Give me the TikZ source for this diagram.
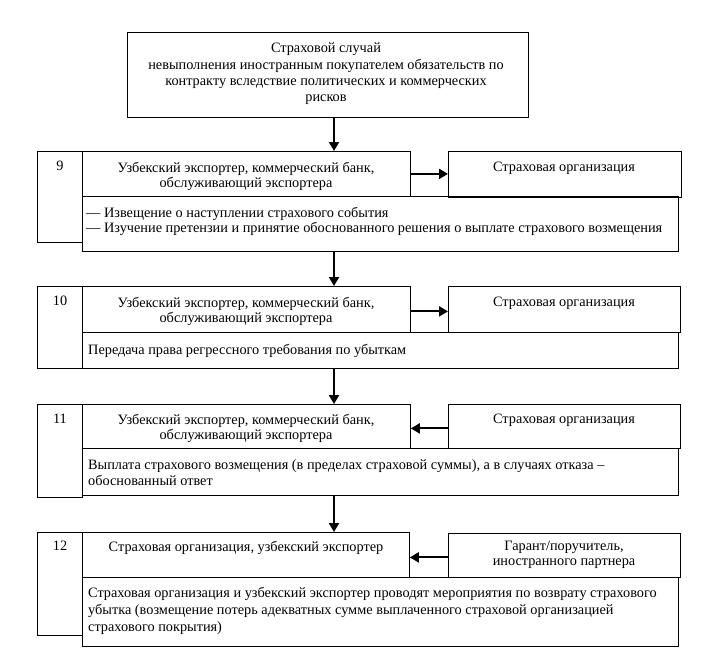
\documentclass[tikz,border=0pt]{standalone}
\usepackage{fontspec}
\setmainfont{Liberation Serif}
\usetikzlibrary{arrows.meta,positioning}

\begin{document}
\begin{tikzpicture}[
x=1pt,y=-1pt,
box/.style={draw,line width=0.8pt,anchor=north west,inner sep=0pt},
txt/.style={font=\fontsize{14.3}{15}\selectfont,align=center,anchor=north,inner sep=0pt},
ltxt/.style={font=\fontsize{14.3}{16}\selectfont,align=left,anchor=north west,inner sep=0pt},
flow/.style={-{Triangle[length=9pt,width=10pt]},line width=2pt}
]
\useasboundingbox (0,0) rectangle (726,661);
\coordinate (axis) at (334,0);
% top box
\node[box,minimum width=401,minimum height=85] (top) at (127,32) {};
\node[txt,font=\fontsize{14.3}{16.3}\selectfont] (topt) at (326,43) {Страховой случай\\ невыполнения иностранным покупателем обязательств по\\ контракту вследствие политических и коммерческих\\ рисков};
% step 9
\node[box,minimum width=45,minimum height=91] (num9) at (37,151) {};
\node[box,minimum width=328,minimum height=45] (head9) at (82,151) {};
\node[box,minimum width=233,minimum height=46] (side9) at (448,151) {};
\node[box,minimum width=596,minimum height=55] (body9) at (82,196) {};
\node[txt] (n9t) at (60,161) {9};
\node[txt] (h9t) at (246,162) {Узбекский экспортер, коммерческий банк,\\ обслуживающий экспортера};
\node[txt] (s9t) at (564,162) {Страховая организация};
\node[ltxt,font=\fontsize{14.3}{15}\selectfont] (b9t) at (86,207) {— Извещение о наступлении страхового события\\ — Изучение претензии и принятие обоснованного решения о выплате страхового возмещения};
% step 10
\node[box,minimum width=45,minimum height=82] (num10) at (37,286) {};
\node[box,minimum width=328,minimum height=46] (head10) at (82,286) {};
\node[box,minimum width=232,minimum height=46] (side10) at (448,286) {};
\node[box,minimum width=596,minimum height=36] (body10) at (82,332) {};
\node[txt] (n10t) at (60,296) {10};
\node[txt] (h10t) at (246,297) {Узбекский экспортер, коммерческий банк,\\ обслуживающий экспортера};
\node[txt] (s10t) at (564,297) {Страховая организация};
\node[ltxt] (b10t) at (88,344) {Передача права регрессного требования по убыткам};
% step 11
\node[box,minimum width=45,minimum height=93] (num11) at (37,404) {};
\node[box,minimum width=328,minimum height=44] (head11) at (82,404) {};
\node[box,minimum width=232,minimum height=44] (side11) at (448,404) {};
\node[box,minimum width=596,minimum height=47] (body11) at (82,448) {};
\node[txt] (n11t) at (60,414) {11};
\node[txt] (h11t) at (246,414) {Узбекский экспортер, коммерческий банк,\\ обслуживающий экспортера};
\node[txt] (s11t) at (564,414) {Страховая организация};
\node[ltxt] (b11t) at (88,459) {Выплата страхового возмещения (в пределах страховой суммы), а в случаях отказа –\\ обоснованный ответ};
% step 12
\node[box,minimum width=45,minimum height=103] (num12) at (37,532) {};
\node[box,minimum width=327,minimum height=45] (head12) at (82,532) {};
\node[box,minimum width=232,minimum height=44] (side12) at (448,533) {};
\node[box,minimum width=596,minimum height=69] (body12) at (82,577) {};
\node[txt] (n12t) at (60,541) {12};
\node[txt] (h12t) at (246,541) {Страховая организация, узбекский экспортер};
\node[txt] (s12t) at (564,541) {Гарант/поручитель,\\ иностранного партнера};
\node[ltxt,font=\fontsize{14.3}{17}\selectfont] (b12t) at (88,587) {Страховая организация и узбекский экспортер проводят мероприятия по возврату страхового\\ убытка (возмещение потерь адекватных сумме выплаченного страховой организацией\\ страхового покрытия)};
% flow down
\draw[flow] (top.south -| axis) -- (head9.north -| axis);
\draw[flow] (body9.south -| axis) -- (head10.north -| axis);
\draw[flow] (body10.south -| axis) -- (head11.north -| axis);
\draw[flow] (body11.south -| axis) -- (head12.north -| axis);
% side arrows
\draw[flow] (head9.east) -- (head9.east -| side9.west);
\draw[flow] ([yshift=-2pt]head10.east) -- ([yshift=-2pt]head10.east -| side10.west);
\draw[flow] ([yshift=-2pt]side11.west) -- ([yshift=-2pt]side11.west -| head11.east);
\draw[flow] ([yshift=-2pt]side12.west) -- ([yshift=-2pt]side12.west -| head12.east);
\end{tikzpicture}
\end{document}
